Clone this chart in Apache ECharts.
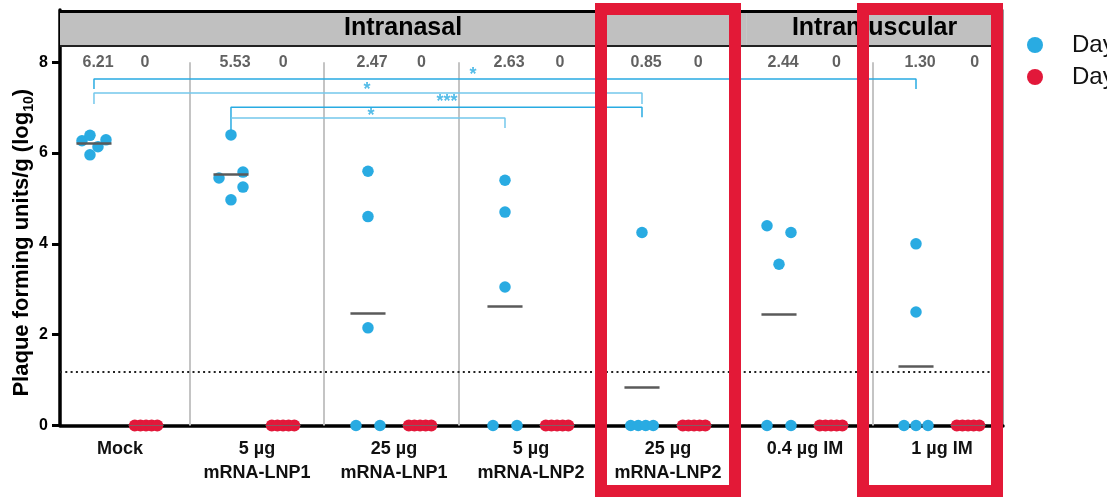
<!DOCTYPE html>
<html>
<head>
<meta charset="utf-8">
<script src="https://cdn.jsdelivr.net/npm/echarts@6/dist/echarts.min.js"></script>
<style>
html,body{margin:0;padding:0;background:#fff;}
#chart{width:1107px;height:497px;}
</style>
</head>
<body>
<div id="chart"></div>
<script>
// ---------------- DATA ----------------
const groups = ['Mock', '5 µg\nmRNA-LNP1', '25 µg\nmRNA-LNP1', '5 µg\nmRNA-LNP2', '25 µg\nmRNA-LNP2', '0.4 µg IM', '1 µg IM'];
const seriesNames = ['Day 3', 'Day 5'];
const blueValues = [
  [6.27, 6.39, 6.29, 6.14, 5.96],
  [6.40, 5.45, 5.58, 5.25, 4.97],
  [5.60, 4.60, 2.15, 0, 0],
  [5.40, 4.70, 3.05, 0, 0],
  [4.25, 0, 0, 0, 0],
  [4.40, 4.25, 3.55, 0, 0],
  [4.00, 2.50, 0, 0, 0]
];
const redValues = [
  [0, 0, 0, 0, 0],
  [0, 0, 0, 0, 0],
  [0, 0, 0, 0, 0],
  [0, 0, 0, 0, 0],
  [0, 0, 0, 0, 0],
  [0, 0, 0, 0, 0],
  [0, 0, 0, 0, 0]
];
const blueMeanLabels = ['6.21', '5.53', '2.47', '2.63', '0.85', '2.44', '1.30'];
const redMeanLabels = ['0', '0', '0', '0', '0', '0', '0'];
const yTicks = [0, 2, 4, 6, 8];
const lodValue = 1.185;
const headerNames = ['Intranasal', 'Intramuscular'];
// significance brackets: groups compared, bracket level, leg ends, stars
const sigFrom = [0, 0, 1, 1];
const sigTo = [6, 4, 4, 3];
const sigLevel = [7.63, 7.32, 7.01, 6.77];
const sigLeftEnd = [7.41, 7.08, 6.46, 6.77];
const sigRightEnd = [7.41, 7.08, 6.79, 6.55];
const sigText = ['*', '*', '***', '*'];

// ---------------- LAYOUT ----------------
const FONT = 'Liberation Sans, Arial, sans-serif';
const PX = 137;               // pixels per group step
const X_MIN = -0.248, X_MAX = 6.635, Y_MAX = 9.15;
const RED_OFF = 0.38;         // red cluster offset from blue cluster
const LABEL_OFF = 0.19;       // category label offset
const HEADER_BOTTOM = 8.357, HEADER_TOP_LINE = 9.128, HEADER_SPLIT = 4.76;
const SEP_TOP = 8;
const separators = [0.70, 1.68, 2.664, 3.67, 4.68, 5.686];
const blueJitter = [
  [-12, -4, 12, 4, -4],
  [0, -12, 12, 12, 0],
  [0, 0, 0, -12, 12],
  [0, 0, 0, -12, 12],
  [0, -11.25, -3.75, 3.75, 11.25],
  [-12, 12, 0, -12, 12],
  [0, 0, -12, 0, 12]
];
const redJitter = [-11.25, -5.6, 0, 5.6, 11.25];
const MEAN_HALF = 0.128;
const sigStarPos = [[2.766, 7.785], [1.993, 7.455], [2.577, 7.19], [2.022, 6.88]];
const sigColors = ['#29ABE2', '#74C8EC', '#29ABE2', '#74C8EC'];

const BLUE = '#29ABE2', RED = '#E2183A';

const mean = a => a.reduce((s, v) => s + v, 0) / a.length;

const blueData = [];
blueValues.forEach((vals, k) => vals.forEach((v, i) => blueData.push([k + blueJitter[k][i] / PX, v])));
const redData = [];
redValues.forEach((vals, k) => vals.forEach((v, i) => redData.push([k + RED_OFF + redJitter[i] / PX, v])));

const blueMeanLines = blueValues.map((vals, k) => [
  { coord: [k - MEAN_HALF, mean(vals)] }, { coord: [k + MEAN_HALF, mean(vals)] }
]);
const redMeanLines = redValues.map((vals, k) => [
  { coord: [k + RED_OFF - MEAN_HALF, mean(vals)] }, { coord: [k + RED_OFF + MEAN_HALF, mean(vals)] }
]);

const meanTextData = [];
blueMeanLabels.forEach((t, k) => meanTextData.push([k + 0.03, 8, t]));
redMeanLabels.forEach((t, k) => meanTextData.push([k * 1.0095 + 0.372, 8, t]));

const bracketSeries = sigFrom.map((f, i) => ({
  type: 'line',
  data: [[f, sigLeftEnd[i]], [f, sigLevel[i]], [sigTo[i], sigLevel[i]], [sigTo[i], sigRightEnd[i]]],
  symbol: 'none',
  lineStyle: { color: sigColors[i], width: 1.5 },
  silent: true, z: 4
}));

const markLineBase = { symbol: ['none', 'none'], silent: true, label: { show: false }, emphasis: { disabled: true } };

const option = {
  animation: false,
  backgroundColor: '#fff',
  textStyle: { fontFamily: FONT },
  grid: { left: 60, right: 104, top: 10, bottom: 71.5, containLabel: false, outerBoundsMode: 'none' },
  legend: {
    data: seriesNames, orient: 'vertical', left: 1022, top: 28, padding: 5,
    icon: 'circle', itemWidth: 16, itemHeight: 16, itemGap: 8, selectedMode: false,
    textStyle: { fontFamily: FONT, fontSize: 24, color: '#111', lineHeight: 24, padding: [0, 0, 0, 24] }
  },
  xAxis: {
    type: 'value', min: X_MIN, max: X_MAX,
    axisLine: { show: true, onZero: false, lineStyle: { color: '#000', width: 3.5 } },
    axisTick: { show: false }, splitLine: { show: false },
    axisLabel: {
      customValues: groups.map((g, k) => k + LABEL_OFF),
      formatter: v => groups[Math.round(v - LABEL_OFF)] || '',
      fontFamily: FONT, fontSize: 18, fontWeight: 'bold', color: '#111', lineHeight: 24, margin: 12
    }
  },
  yAxis: [{
    type: 'value', min: 0, max: Y_MAX,
    axisLine: { show: true, onZero: false, lineStyle: { color: '#000', width: 3.5 } },
    axisTick: { show: true, length: 8, lineStyle: { color: '#000', width: 3 }, customValues: yTicks },
    axisLabel: { customValues: yTicks, fontFamily: FONT, fontSize: 16, fontWeight: 'bold', color: '#000', margin: 12 },
    splitLine: { show: false },
    name: 'Plaque forming units/g (log{sub|10})', nameLocation: 'middle', nameRotate: 90, nameGap: 24,
    nameMoveOverlap: false,
    nameTextStyle: {
      fontFamily: FONT, fontSize: 22, fontWeight: 'bold', color: '#000', lineHeight: 28, padding: [0, 50, 0, 0],
      rich: { sub: { fontFamily: FONT, fontSize: 14, fontWeight: 'bold', color: '#000', lineHeight: 15, verticalAlign: 'bottom' } }
    }
  }, {
    type: 'value', min: 0, max: Y_MAX, position: 'right',
    axisLine: { show: true, onZero: false, lineStyle: { color: '#777', width: 1.5 } },
    axisTick: { show: false }, axisLabel: { show: false }, splitLine: { show: false }
  }],
  graphic: [
    { type: 'rect', z: 100, shape: { x: 601, y: 9, width: 134, height: 482 }, style: { fill: 'none', stroke: '#E31937', lineWidth: 12 } },
    { type: 'rect', z: 100, shape: { x: 863, y: 9, width: 134, height: 482 }, style: { fill: 'none', stroke: '#E31937', lineWidth: 12 } }
  ],
  series: [
    {
      name: 'decor', type: 'line', data: [], silent: true, z: 1,
      markArea: {
        silent: true,
        itemStyle: { color: '#c0c0c0' },
        label: { show: true, position: 'inside', fontFamily: FONT, fontSize: 25, fontWeight: 'bold', color: '#000' },
        data: [
          [{ name: headerNames[0], coord: [X_MIN, HEADER_BOTTOM] }, { coord: [HEADER_SPLIT, Y_MAX] }],
          [{ name: headerNames[1], coord: [HEADER_SPLIT, HEADER_BOTTOM] }, { coord: [X_MAX, Y_MAX] }]
        ]
      },
      markLine: Object.assign({}, markLineBase, {
        z: 1,
        data: [
          ...separators.map(s => [{ coord: [s, 0], lineStyle: { color: '#c4c4c4', width: 2, type: 'solid' } }, { coord: [s, SEP_TOP] }]),
          { yAxis: lodValue, lineStyle: { color: '#222', width: 2, type: [2, 3.3] } },
          { yAxis: HEADER_TOP_LINE, lineStyle: { color: '#000', width: 3, type: 'solid' } },
          { yAxis: HEADER_BOTTOM, lineStyle: { color: '#222', width: 2, type: 'solid' } }
        ]
      })
    },
    {
      name: seriesNames[0], type: 'scatter', data: blueData, symbol: 'circle', symbolSize: 11.5, z: 3,
      itemStyle: { color: BLUE, opacity: 1 }, silent: true,
      markLine: Object.assign({}, markLineBase, { data: blueMeanLines, lineStyle: { color: '#5a5a5a', width: 2.5, type: 'solid' } })
    },
    {
      name: seriesNames[1], type: 'scatter', data: redData, symbol: 'circle', symbolSize: 12, z: 3,
      itemStyle: { color: RED, opacity: 1 }, silent: true,
      markLine: Object.assign({}, markLineBase, { data: redMeanLines, lineStyle: { color: 'rgba(110,110,110,0.8)', width: 1, type: 'solid' } })
    },
    ...bracketSeries,
    {
      name: 'stars', type: 'scatter', symbolSize: 0, silent: true, z: 5,
      data: sigStarPos.map((p, i) => [p[0], p[1], sigText[i]]),
      label: { show: true, position: [0, 3], align: 'center', verticalAlign: 'middle', formatter: p => p.value[2], fontFamily: FONT, fontSize: 18, fontWeight: 'bold', color: '#29ABE2', textBorderWidth: 0 }
    },
    {
      name: 'means', type: 'scatter', symbolSize: 0, silent: true, z: 5,
      data: meanTextData,
      label: { show: true, position: [0, 0], align: 'center', verticalAlign: 'middle', formatter: p => p.value[2], fontFamily: FONT, fontSize: 16, fontWeight: 'bold', color: '#3a3a3a', textBorderWidth: 0 }
    }
  ]
};

const chart = echarts.init(document.getElementById('chart'), null, { renderer: 'canvas' });
chart.setOption(option);
</script>
</body>
</html>
